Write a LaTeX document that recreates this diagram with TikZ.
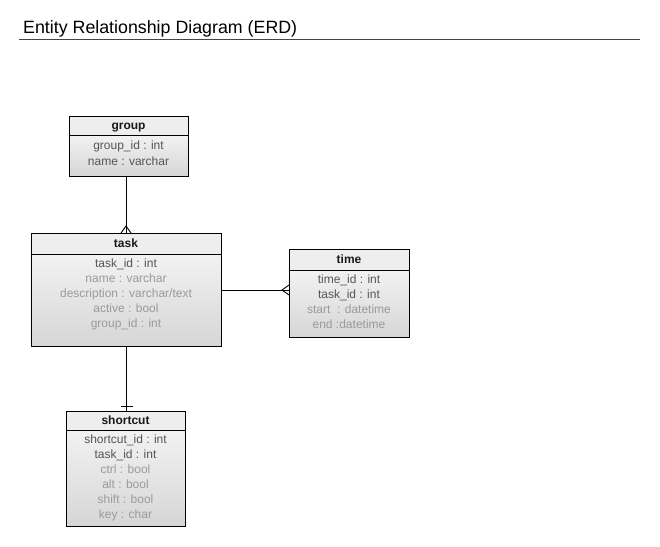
\documentclass[tikz,border=0pt]{standalone}
\usepackage{fontspec}
\setmainfont{Liberation Sans}
\usetikzlibrary{calc}
\definecolor{attrdark}{HTML}{555555}
\definecolor{attrlight}{HTML}{9A9A9A}
\definecolor{hdrfill}{HTML}{EEEEEE}
\definecolor{bodytop}{HTML}{F2F2F2}
\definecolor{bodybot}{HTML}{D6D6D6}
\definecolor{rulecol}{HTML}{444444}
\begin{document}
\begin{tikzpicture}[x=1pt,y=-1pt,
  hdr/.style={draw=black, fill=hdrfill, line width=0.9pt, inner sep=0pt, outer sep=0pt,
    text height=9pt, text depth=2pt,
    anchor=north west, font=\bfseries\fontsize{12}{14}\selectfont, text=black!90},
  bodybox/.style={draw=black, top color=bodytop, bottom color=bodybot, line width=0.9pt,
    inner sep=0pt, outer sep=0pt, anchor=north west},
  attr/.style={font=\fontsize{12}{14}\selectfont, inner sep=0pt, text height=9pt, text depth=2pt},
  dk/.style={attr, text=attrdark},
  lt/.style={attr, text=attrlight},
  conn/.style={draw=black, line width=0.9pt}
]
\useasboundingbox (0,0) rectangle (660,546);
\fill[white] (0,0) rectangle (660,546);

% title
\node[anchor=base west, inner sep=0pt, font=\fontsize{17.8}{21}\selectfont] (title) at (23,33) {Entity Relationship Diagram (ERD)};
\coordinate (ruleL) at (19,39);
\coordinate (ruleR) at (640,39);
\draw[rulecol, line width=0.9pt] (ruleL) -- (ruleR);

% group
\node[bodybox, minimum width=119, minimum height=41] (group-b) at (69,135) {};
\node[hdr, minimum width=119, minimum height=19] (group-h) at (69,116) {group};
\node[dk] (group-a1) at (128.5,146) {group\_id : int};
\node[dk] (group-a2) at (128.5,161.5) {name : varchar};

% task
\node[bodybox, minimum width=190, minimum height=92] (task-b) at (31,254) {};
\node[hdr, minimum width=190, minimum height=21] (task-h) at (31,233) {task};
\node[dk] (task-a1) at (126,263.5) {task\_id : int};
\node[lt] (task-a2) at (126,279) {name : varchar};
\node[lt] (task-a3) at (126,294) {description : varchar/text};
\node[lt] (task-a4) at (126,309) {active : bool};
\node[lt] (task-a5) at (126,324) {group\_id : int};

% time
\node[bodybox, minimum width=120, minimum height=67] (time-b) at (289,270) {};
\node[hdr, minimum width=120, minimum height=21] (time-h) at (289,249) {time};
\node[dk] (time-a1) at (349,280) {time\_id : int};
\node[dk] (time-a2) at (349,295) {task\_id : int};
\node[lt] (time-a3) at (349,310) {start\ \ : datetime};
\node[lt] (time-a4) at (349,325) {end :datetime};

% shortcut
\node[bodybox, minimum width=119, minimum height=96] (sc-b) at (66,430) {};
\node[hdr, minimum width=119, minimum height=19] (sc-h) at (66,411) {shortcut};
\node[dk] (sc-a1) at (125.5,440) {shortcut\_id : int};
\node[dk] (sc-a2) at (125.5,455) {task\_id : int};
\node[lt] (sc-a3) at (125.5,470) {ctrl : bool};
\node[lt] (sc-a4) at (125.5,485) {alt : bool};
\node[lt] (sc-a5) at (125.5,500) {shift : bool};
\node[lt] (sc-a6) at (125.5,515) {key : char};

% group -> task (many)
\draw[conn] (group-b.south -| 126,0) -- (task-h.north -| 126,0);
\draw[conn] ($(task-h.north -| 126,0)+(-5,0)$) -- ($(task-h.north -| 126,0)+(0,-7)$) -- ($(task-h.north -| 126,0)+(5,0)$);

% task -> time (many)
\draw[conn] (task-b.east |- 0,290) -- (time-b.west |- 0,290);
\draw[conn] ($(time-b.west |- 0,290)+(0,-5)$) -- ($(time-b.west |- 0,290)+(-7,0)$) -- ($(time-b.west |- 0,290)+(0,5)$);

% task -> shortcut (one)
\draw[conn] (task-b.south -| 126.5,0) -- (sc-h.north -| 126.5,0);
\draw[conn] ($(sc-h.north -| 126.5,0)+(-6,-5)$) -- ($(sc-h.north -| 126.5,0)+(6,-5)$);
\end{tikzpicture}
\end{document}
